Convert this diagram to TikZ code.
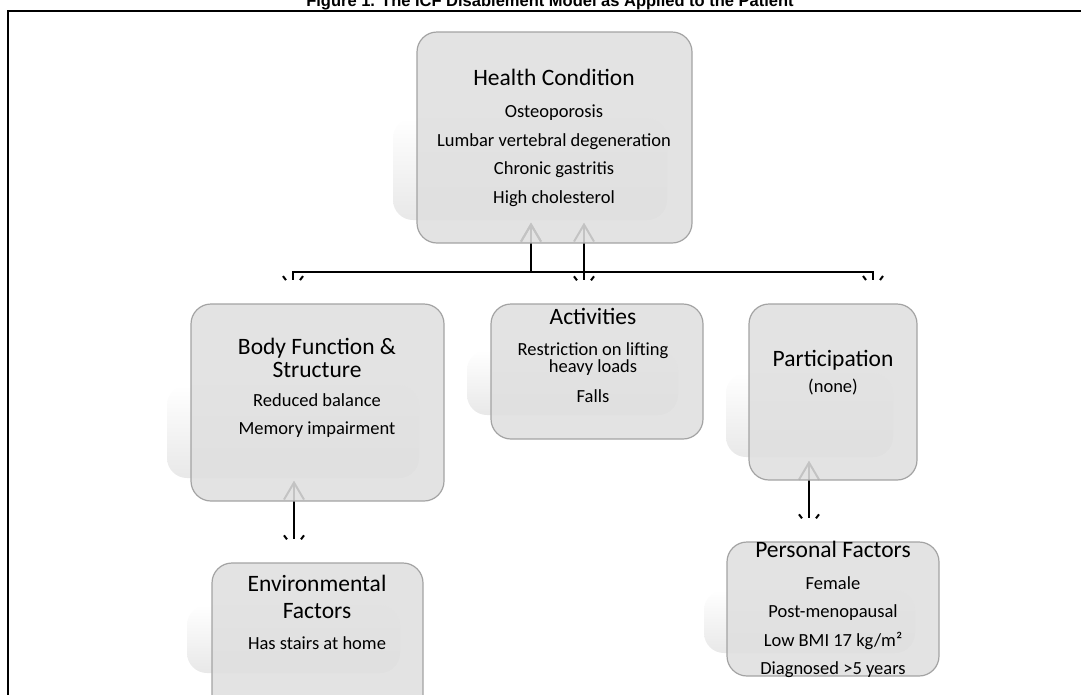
\documentclass[tikz,border=0pt]{standalone}
\usepackage{fontspec}
\setmainfont{Carlito}
\newfontfamily\titlefont{Liberation Sans}
\usetikzlibrary{calc,arrows.meta,decorations.markings}

\pgfdeclarelayer{shadows}
\pgfdeclarelayer{links}
\pgfsetlayers{shadows,links,main}

\colorlet{boxfill}{black!12.5}
\colorlet{boxline}{black!36}
\newcommand{\headsize}{\fontsize{23.5}{27}\selectfont}
\newcommand{\itemsize}{\fontsize{18.5}{28.5}\selectfont}

\begin{document}
\begin{tikzpicture}[
x=1pt, y=-1pt,
FrontBox/.style={draw=boxline, line width=1.2pt, fill=boxfill, fill opacity=0.88, rounded corners=20pt, inner sep=0pt},
ShadowBox/.style={top color=white, bottom color=black!9, rounded corners=20pt},
Links/.style={line width=2pt, {Straight Barb[length=17pt,width=20pt]}-,
  postaction={decorate, decoration={markings, mark=at position 0.999 with {\draw[-, line width=2pt] (-4pt,10pt)--(0pt,7pt) (-4pt,-10pt)--(0pt,-7pt);}}}},
Heads/.style={font=\headsize, anchor=base, align=center},
Items/.style={font=\itemsize, anchor=base, align=center}
]
\useasboundingbox (0,0) rectangle (1081,694);
\clip (0,0) rectangle (1081,694);

% title and frame
\node[font=\titlefont\bfseries\fontsize{16.5}{16.5}\selectfont, anchor=base] (title) at (550,6) {Figure 1. The ICF Disablement Model as Applied to the Patient};
\draw[line width=2pt] (8,10.5) rectangle (1100,720);

% boxes
\node[FrontBox, minimum width=275pt, minimum height=211pt] (hc) at (554.5,137.5) {};
\node[FrontBox, minimum width=253pt, minimum height=197pt] (bf) at (317.5,402.5) {};
\node[FrontBox, minimum width=212pt, minimum height=135pt] (ac) at (597,371.5) {};
\node[FrontBox, minimum width=168pt, minimum height=176pt] (pa) at (833,392) {};
\node[FrontBox, minimum width=211pt, minimum height=197pt] (en) at (317.5,661.5) {};
\node[FrontBox, minimum width=212pt, minimum height=134pt] (pf) at (833,609) {};

% reflections behind the boxes
\begin{pgfonlayer}{shadows}
\shade[ShadowBox] (393,118) rectangle (667,220);
\shade[ShadowBox] (167,385) rectangle (419,478);
\shade[ShadowBox] (467,350) rectangle (678,415);
\shade[ShadowBox] (726,373) rectangle (893,457);
\shade[ShadowBox] (187,605) rectangle (400,673);
\shade[ShadowBox] (704,590) rectangle (915,653);
\end{pgfonlayer}

% texts (base = baseline of the last line)
\node[Heads] (hcHead) at (554,85) {Health Condition};
\node[Items] (hcItems) at (554,203) {Osteoporosis\\Lumbar vertebral degeneration\\Chronic gastritis\\High cholesterol};

\node[Heads, font=\fontsize{23.5}{23}\selectfont] (bfHead) at (317,377) {Body Function \&\\Structure};
\node[Items, font=\fontsize{18.5}{28}\selectfont] (bfItems) at (317,434.5) {Reduced balance\\Memory impairment};

\node[Heads] (acHead) at (593,324) {Activities};
\node[Items] (acItems) at (593,402.5) {Restriction on lifting\\[-11.5pt]heavy loads\\[1.5pt]Falls};

\node[Heads] (paHead) at (833,366) {Participation};
\node[Items] (paItems) at (833,392.5) {(none)};

\node[Heads, font=\fontsize{23.5}{27}\selectfont] (enHead) at (317,618) {Environmental\\Factors};
\node[Items] (enItems) at (317,649.5) {Has stairs at home};

\node[Heads] (pfHead) at (833,557) {Personal Factors};
\node[Items, font=\fontsize{18.5}{28.3}\selectfont] (pfItems) at (833,674.4) {Female\\Post-menopausal\\Low BMI 17 kg/m²\\Diagnosed >5 years};

% connectors
\begin{pgfonlayer}{links}
\coordinate (bus) at ($(hc.south)+(0,28)$);
\coordinate (hcA) at ($(hc.south)+(-23.5,-21)$);
\coordinate (hcB) at ($(hc.south)+(29.5,-21)$);
\coordinate (bfT) at ($(bf.north)+(-24.5,-23)$);
\coordinate (acT) at ($(hcB |- ac.north)+(0,-23)$);
\coordinate (paT) at ($(pa.north)+(40,-23)$);
\coordinate (bfB) at ($(bf.south)+(-23.5,-21)$);
\coordinate (enT) at ($(bfB |- en.north)+(0,-23)$);
\coordinate (paB) at ($(pa.south)+(-24,-20)$);
\coordinate (pfT) at ($(paB |- pf.north)+(0,-23)$);

\draw[Links] (hcA) -- (hcA |- bus) -| (bfT);
\draw[Links] (hcA) -- (hcA |- bus) -| (paT);
\draw[Links] (hcB) -- (acT);
\draw[Links] (bfB) -- (enT);
\draw[Links] (paB) -- (pfT);
\end{pgfonlayer}

\end{tikzpicture}
\end{document}
